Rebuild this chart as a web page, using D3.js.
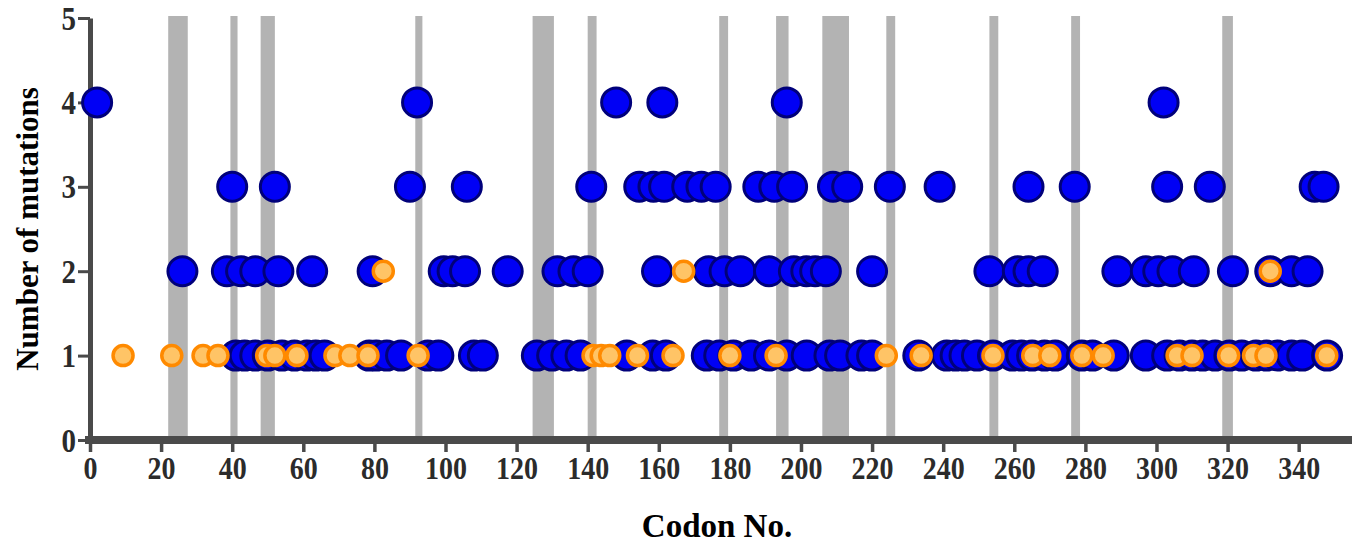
<!DOCTYPE html>
<html>
<head>
<meta charset="utf-8">
<script src="https://cdn.jsdelivr.net/npm/d3@7"></script>
<style>
  html, body { margin: 0; padding: 0; background: #fff; }
  svg { display: block; }
  .tick text { font-family: "Liberation Serif", "DejaVu Serif", serif; font-weight: bold; }
</style>
</head>
<body>
<div id="chart"></div>
<script>
// Codon positions of mutations, grouped by the number of mutations observed
const blueRow1 = [41, 43.5, 46.5, 50, 54, 57.5, 61, 63.5, 66, 78.5, 80.5, 83.5, 87.5, 95, 98,
  108, 110.5, 125.7, 130, 134, 138, 151, 158.3, 162, 173.5, 177, 181, 186, 191, 196, 201.6, 208, 211,
  217, 220, 233, 241, 243.5, 246, 249.5, 254, 259.5, 262, 265, 268.5, 271.5, 279, 282, 288, 297, 303,
  306.5, 310, 313, 316.5, 320.5, 324, 328, 331, 334, 338, 341, 348];
const blueRow2 = [26, 38.5, 42.5, 46.5, 53, 62.5, 79.5, 99.5, 102, 105.5, 117.5, 131.5, 136, 140, 159.5,
  174, 178.5, 183, 191, 198, 201.5, 204, 207, 220, 253, 261, 264, 268, 289, 297, 300.5, 304.5, 310.5,
  321.5, 332, 338, 342.5];
const blueRow3 = [40, 52, 90, 106, 141, 154.5, 158.5, 161.5, 168, 172, 176, 188, 192.5, 197.5, 209, 213,
  225, 239, 264, 277, 303, 315, 344.5, 347];
const blueRow4 = [2, 92, 148, 161, 196, 302];

const orangeRow1 = [9.3, 23, 31.8, 36, 49.7, 52, 58.2, 68.9, 73.1, 78.2, 92.3, 141.5, 143.8, 146.2, 154,
  164, 180, 193, 224, 233.8, 254, 265.2, 270, 279, 285, 305.8, 310, 320.3, 327.3, 330.8, 347.9];
const orangeRow2 = [82.5, 167, 332];

// Shaded codon regions
const bandStart = [22, 39.5, 48, 91.5, 124.5, 140, 177, 193, 206, 224, 253, 276, 318.5];
const bandEnd   = [27.5, 41.5, 52, 93.5, 130.5, 142.5, 179.5, 196.5, 213.5, 226.5, 255.5, 278.5, 321.5];

const xTickValues = d3.range(0, 341, 20);
const yTickValues = [0, 1, 2, 3, 4, 5];

const xTitle = "Codon No.";
const yTitle = "Number of mutations";

// ---- layout ----
const W = 1358, H = 549;
const plotLeft = 90, plotRight = 1352, plotTop = 18, plotBottom = 440;

const x = d3.scaleLinear().domain([0, 355]).range([plotLeft, plotRight]);
const y = d3.scaleLinear().domain([0, 5]).range([plotBottom, plotTop]);

const svg = d3.select("#chart").append("svg").attr("width", W).attr("height", H);

// shaded regions
svg.append("g").selectAll("rect")
  .data(bandStart.map((s, i) => ({ s, e: bandEnd[i] })))
  .join("rect")
  .attr("x", d => x(d.s))
  .attr("width", d => x(d.e) - x(d.s))
  .attr("y", y(5) - 2)
  .attr("height", y(0) - y(5) + 2)
  .attr("fill", "#b3b3b3");

// points
const toPts = (arr, n) => arr.map(c => ({ c, n }));
const bluePts = [].concat(toPts(blueRow1, 1), toPts(blueRow2, 2), toPts(blueRow3, 3), toPts(blueRow4, 4));
const orangePts = [].concat(toPts(orangeRow1, 1), toPts(orangeRow2, 2));

// axes
const axisColor = "#4a4a4a";
const labelColor = "#2b2b2b";
const yAxis = svg.append("g")
  .attr("transform", `translate(${plotLeft},0)`)
  .call(d3.axisLeft(y).tickValues(yTickValues).tickFormat(d3.format("d")).tickSize(12).tickSizeOuter(0).tickPadding(2));
yAxis.select(".domain").attr("stroke", axisColor).attr("stroke-width", 5);
yAxis.selectAll(".tick line").attr("stroke", axisColor).attr("stroke-width", 3);
// tall, narrow digits, centred on each tick
yAxis.selectAll(".tick text")
  .attr("font-size", 29).attr("fill", labelColor)
  .attr("dy", "0.33em")
  .attr("transform", "scale(1,1.15)");

const xAxis = svg.append("g")
  .attr("transform", `translate(0,${plotBottom})`)
  .call(d3.axisBottom(x).tickValues(xTickValues).tickSize(12).tickSizeOuter(0).tickPadding(6));
xAxis.select(".domain").attr("stroke", axisColor).attr("stroke-width", 8)
  .attr("d", `M${plotLeft - 5},0H${plotRight}`);
xAxis.selectAll(".tick line").attr("stroke", axisColor).attr("stroke-width", 3.5);
xAxis.selectAll(".tick text")
  .attr("font-size", 28).attr("fill", labelColor)
  .attr("transform", "scale(1,1.15)")
  .attr("y", 14);

svg.append("g").selectAll("circle")
  .data(bluePts)
  .join("circle")
  .attr("cx", d => x(d.c))
  .attr("cy", d => y(d.n))
  .attr("r", 14.5)
  .attr("fill", "#0000f5")
  .attr("stroke", "#00007a")
  .attr("stroke-width", 3);

svg.append("g").selectAll("circle")
  .data(orangePts)
  .join("circle")
  .attr("cx", d => x(d.c))
  .attr("cy", d => y(d.n))
  .attr("r", 10)
  .attr("fill", "#ffc466")
  .attr("stroke", "#ff8a00")
  .attr("stroke-width", 3.5);

// titles
svg.append("text")
  .attr("x", (plotLeft + plotRight) / 2 - 4)
  .attr("y", 537)
  .attr("text-anchor", "middle")
  .attr("font-family", "'Liberation Serif', 'DejaVu Serif', serif")
  .attr("font-weight", "bold")
  .attr("font-size", 33)
  .attr("fill", "#000")
  .text(xTitle);

svg.append("text")
  .attr("transform", `translate(38,${(plotTop + plotBottom) / 2}) rotate(-90)`)
  .attr("text-anchor", "middle")
  .attr("font-family", "'Liberation Serif', 'DejaVu Serif', serif")
  .attr("font-weight", "bold")
  .attr("font-size", 31)
  .attr("fill", "#000")
  .text(yTitle);
</script>
</body>
</html>
